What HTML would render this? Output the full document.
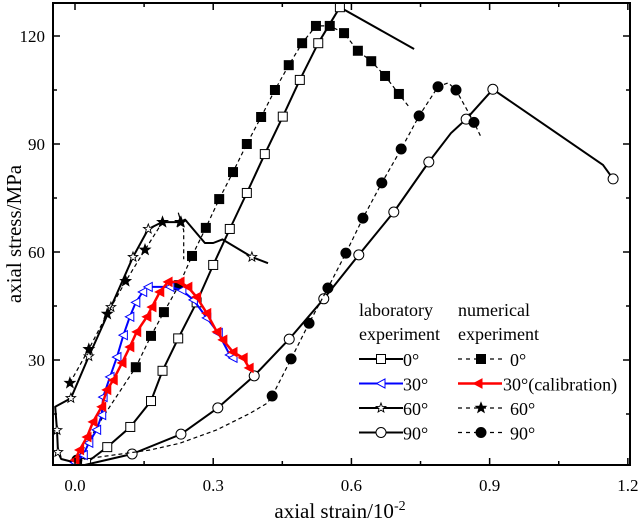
<!DOCTYPE html>
<html><head><meta charset="utf-8"><style>
body{margin:0;background:#fff}
svg text{font-family:"Liberation Serif",serif;fill:#000}
</style></head><body>
<svg id="c" width="641" height="524"></svg>
<script>
const xTicks=[0,0.3,0.6,0.9,1.2];
const xTickLabels=["0.0","0.3","0.6","0.9","1.2"];
const yTicks=[30,60,90,120];
const yTickLabels=["30","60","90","120"];
const lab0X=[0.024,0.07,0.12,0.165,0.19,0.224,0.264,0.30,0.336,0.373,0.412,0.451,0.488,0.528,0.575,0.736];
const lab0Y=[1.4,5.8,11.4,18.6,27,36,46,56.4,66.4,76.4,87.2,97.6,107.8,118,128,116.4];
const lab0M=[1,1,1,1,1,1,1,1,1,1,1,1,1,1,1,0];
const num0X=[0.0,0.06,0.132,0.165,0.193,0.226,0.254,0.284,0.313,0.343,0.373,0.404,0.434,0.464,0.493,0.523,0.553,0.584,0.614,0.643,0.673,0.703,0.725];
const num0Y=[1.5,14,28,36.7,43.3,50.8,58.9,66.7,74.7,82.2,90,97.5,105,111.9,118,122.8,122.8,120.8,115.9,113,108.9,103.9,100.3];
const num0M=[0,0,1,1,1,1,1,1,1,1,1,1,1,1,1,1,1,1,1,1,1,1,0];
const lab30X=[0.0,0.018,0.03,0.047,0.058,0.061,0.076,0.091,0.105,0.119,0.132,0.147,0.159,0.206,0.232,0.257,0.286,0.311,0.336,0.343];
const lab30Y=[1.5,3.6,7,10.6,14.7,19.7,25.3,30.8,36.9,42,46,48.9,50.3,50.3,49.4,46.7,41.7,37.5,31.4,30.6];
const num30X=[0,0.01,0.026,0.039,0.058,0.069,0.083,0.102,0.119,0.134,0.156,0.167,0.184,0.202,0.228,0.245,0.264,0.286,0.308,0.321,0.343,0.365,0.378];
const num30Y=[2.2,5,8.6,12.8,17,21.7,24.4,29.2,33.6,37.8,42,44.7,48.9,51.7,51.7,50.3,47.5,43,37.8,35.6,32.2,30.6,27.8];
const lab60X=[0.004,-0.03,-0.037,-0.039,-0.043,-0.009,0.03,0.078,0.126,0.159,0.189,0.228,0.239,0.282,0.30,0.32,0.384,0.419];
const lab60Y=[1.4,2.5,4.4,10.5,17,19.4,31,44.7,58.6,66.4,68.3,68.3,69,62.5,62.5,63.5,58.6,56.9];
const lab60M=[0,0,1,1,0,1,1,1,1,1,0,1,0,0,0,0,1,0];
const num60X=[-0.011,0.03,0.07,0.11,0.152,0.19,0.23,0.224,0.236,0.236];
const num60Y=[23.6,33,42.8,51.9,60.6,68.3,68.3,71,66,58];
const num60M=[1,1,1,1,1,1,1,0,0,0];
const lab90X=[0.02,0.124,0.23,0.31,0.389,0.465,0.54,0.616,0.692,0.768,0.816,0.849,0.907,1.146,1.168];
const lab90Y=[0.8,3.9,9.4,16.7,25.6,35.8,47,59.2,71.1,85,93,96.9,105.2,84.2,80.3];
const lab90M=[0,1,1,1,1,1,1,1,1,1,0,1,1,0,1];
const num90X=[0.004,0.163,0.228,0.308,0.38,0.417,0.428,0.469,0.508,0.549,0.588,0.625,0.666,0.708,0.747,0.788,0.81,0.827,0.866,0.881];
const num90Y=[2.2,5,6.9,10.6,15.2,18,20,30.3,40.2,50,59.7,69.4,79.2,88.6,97.8,105.9,107,105,96,92];
const num90M=[1,0,0,0,0,0,1,1,1,1,1,1,1,1,1,1,0,1,1,0];

const NS="http://www.w3.org/2000/svg";
const svg=document.getElementById('c');
const L=53,R=630,T=3,B=465;
const sx=v=>75+v*460.7, sy=v=>468-v*3.6;
function mk(t,a,p){const e=document.createElementNS(NS,t);for(const k in a)e.setAttribute(k,a[k]);(p||svg).appendChild(e);return e;}
const defs=mk('defs',{});const cp=mk('clipPath',{id:'cp'},defs);mk('rect',{x:L,y:T,width:R-L,height:B-T},cp);
const plot=mk('g',{'clip-path':'url(#cp)'});



function starPts(cx,cy,r){let p=[];for(let i=0;i<10;i++){const a=-Math.PI/2+i*Math.PI/5,rr=i%2?r*0.42:r;p.push((cx+rr*Math.cos(a)).toFixed(1)+','+(cy+rr*Math.sin(a)).toFixed(1));}return p.join(' ');}
function marker(g,type,cx,cy,fill,stroke,name){
  let e;
  if(type==='sq')e=mk('rect',{x:cx-4.5,y:cy-4.5,width:9,height:9,fill:fill,stroke:stroke,'stroke-width':1},g);
  else if(type==='ci')e=mk('circle',{cx:cx,cy:cy,r:5,fill:fill,stroke:stroke,'stroke-width':1},g);
  else if(type==='st')e=mk('polygon',{points:starPts(cx,cy,fill==='#fff'?5:5.5),fill:fill,stroke:stroke,'stroke-width':0.9},g);
  else if(type==='tr')e=mk('polygon',{points:`${cx-4.5},${cy} ${cx+4},${cy-4.5} ${cx+4},${cy+4.5}`,fill:fill,stroke:stroke,'stroke-width':1},g);
  
  
}
function series(name,xs,ys,ms,color,width,dash,type,fill){
  const g=mk('g',{},plot);
  
  
  const d=xs.map((x,i)=>(i?'L':'M')+sx(x).toFixed(1)+','+sy(ys[i]).toFixed(1)).join(' ');
  const a={d:d,fill:'none',stroke:color,'stroke-width':width,'stroke-linejoin':'round'};
  if(dash)a['stroke-dasharray']=dash;
  const p=mk('path',a,g);
  
  
  xs.forEach((x,i)=>{if(!ms||ms[i])marker(g,type,sx(x),sy(ys[i]),fill,color,name+'-point');});
}
series('lab-0deg',lab0X,lab0Y,lab0M,'#000',2,null,'sq','#fff');
series('num-0deg',num0X,num0Y,num0M,'#000',1.2,'4,3','sq','#000');
series('lab-60deg',lab60X,lab60Y,lab60M,'#000',2,null,'st','#fff');
series('num-60deg',num60X,num60Y,num60M,'#000',1.2,'4,3','st','#000');
series('lab-90deg',lab90X,lab90Y,lab90M,'#000',2,null,'ci','#fff');
series('num-90deg',num90X,num90Y,num90M,'#000',1.2,'4,3','ci','#000');
series('lab-30deg',lab30X,lab30Y,null,'#0000ff',2,null,'tr','#fff');
series('num-30deg-calibration',num30X,num30Y,null,'#ff0000',2.5,null,'tr','#ff0000');

const fr=mk('rect',{x:L,y:T,width:R-L,height:B-T,fill:'none',stroke:'#000','stroke-width':2});


for(let v=0;v<=1.2001;v+=0.15){const x=sx(v),len=(Math.round(v/0.15)%2)?4:7;
  mk('line',{x1:x,x2:x,y1:B,y2:B-len,stroke:'#000','stroke-width':1.5});
  mk('line',{x1:x,x2:x,y1:T,y2:T+len,stroke:'#000','stroke-width':1.5});}
for(let v=15;v<=127;v+=15){const y=sy(v),len=(v%30)?4:7;
  mk('line',{x1:L,x2:L+len,y1:y,y2:y,stroke:'#000','stroke-width':1.5});
  mk('line',{x1:R,x2:R-len,y1:y,y2:y,stroke:'#000','stroke-width':1.5});}
xTicks.forEach((v,i)=>{const t=mk('text',{x:sx(v),y:491,'font-size':17,'text-anchor':'middle'});t.textContent=xTickLabels[i];
  
  });
yTicks.forEach((v,i)=>{const t=mk('text',{x:45,y:sy(v)+6,'font-size':17,'text-anchor':'end'});t.textContent=yTickLabels[i];
  
  });
const xt=mk('text',{x:340,y:518,'font-size':21,'text-anchor':'middle'});xt.innerHTML='axial strain/10<tspan dy="-8" font-size="14">-2</tspan>';


const yt=mk('text',{x:0,y:0,'font-size':21,'text-anchor':'middle',transform:'translate(21,234) rotate(-90)'});yt.textContent='axial stress/MPa';



const lg=mk('g',{});


[['laboratory',359,316],['experiment',359,340],['numerical',458,316],['experiment',458,340]].forEach(a=>{const t=mk('text',{x:a[1],y:a[2],'font-size':18},lg);t.textContent=a[0];
  
  });
const rows=[
 ['0°','sq','#000','#fff',2,null,'0°','#000','#000',1.2,'4,4'],
 ['30°','tr','#0000ff','#fff',2,null,'30°(calibration)','#ff0000','#ff0000',2.5,null],
 ['60°','st','#000','#fff',2,null,'60°','#000','#000',1.2,'4,4'],
 ['90°','ci','#000','#fff',2,null,'90°','#000','#000',1.2,'4,4']];
rows.forEach((r,i)=>{const y=359+i*24.5;
  const e=mk('g',{},lg);
  
  
  mk('line',{x1:359,x2:403,y1:y,y2:y,stroke:r[2],'stroke-width':r[4]},e);
  marker(e,r[1],381,y,r[3],r[2],'legend-marker');
  let t=mk('text',{x:403,y:y+7,'font-size':18},e);t.textContent=r[0];
  const a={x1:458,x2:502,y1:y,y2:y,stroke:r[7],'stroke-width':r[9]};if(r[10])a['stroke-dasharray']=r[10];
  mk('line',a,e);
  marker(e,r[1],i===1?478:481,y,r[8],r[7],'legend-marker');
  t=mk('text',{x:i===1?503:510,y:y+7,'font-size':18},e);t.textContent=r[6];
});
</script>
</body></html>
